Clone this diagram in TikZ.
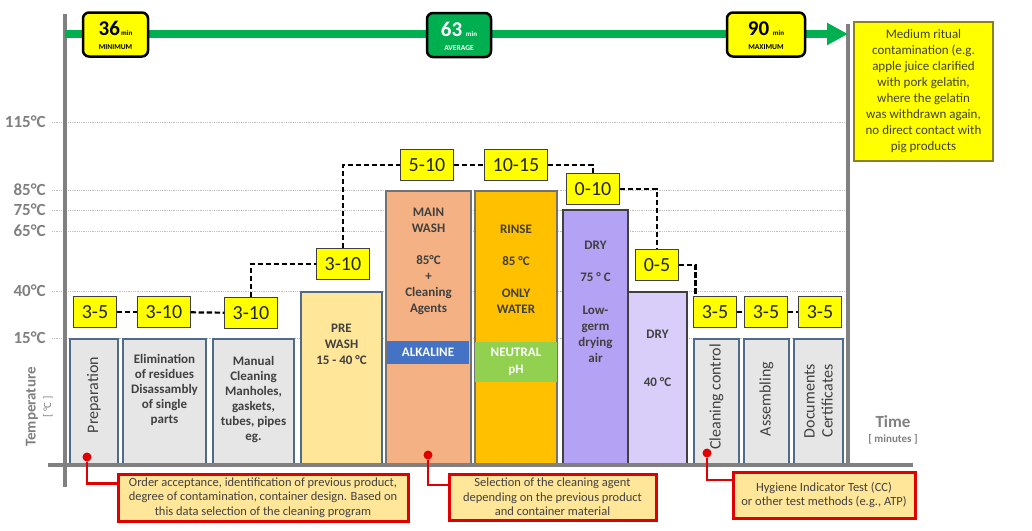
\documentclass[tikz,border=0pt]{standalone}
\usepackage{fontspec}
\setmainfont{Carlito}
\usetikzlibrary{arrows.meta}
\tikzset{>=latex}
\definecolor{axisgray}{HTML}{808080}
\definecolor{txtgray}{HTML}{404040}
\definecolor{durbox}{HTML}{FFFF00}
\definecolor{noteframe}{HTML}{8C8020}
\definecolor{timegreen}{HTML}{00B050}
\definecolor{barframe}{HTML}{4F6A8A}
\definecolor{prepfill}{HTML}{E7E6E6}
\definecolor{prefill}{HTML}{FFE699}
\definecolor{mainfill}{HTML}{F4B183}
\definecolor{rinsefill}{HTML}{FFC000}
\definecolor{dryfill}{HTML}{B4A3F5}
\definecolor{drylight}{HTML}{D9CEFA}
\definecolor{alkfill}{HTML}{4472C4}
\definecolor{neutfill}{HTML}{92D050}
\definecolor{callfill}{HTML}{FFE699}
\definecolor{callred}{HTML}{E00000}
\tikzset{
    dur/.style={draw=black!75, fill=durbox, line width=0.8, inner xsep=8, inner ysep=0, minimum height=31,
        text height=13.5, text depth=0, text=black!85, font=\fontsize{20}{20}\selectfont},
    dashline/.style={line width=2.2, dash pattern=on 5.5pt off 2.5pt},
    phase/.style={draw=barframe, line width=1.2},
    cphase/.style={draw=black!55, line width=1.2},
    bartxt/.style={align=center, text=txtgray, inner sep=0, font=\fontsize{13}{15}\selectfont\bfseries},
    sidetxt/.style={rotate=90, align=center, text=txtgray, inner sep=0, font=\fontsize{16}{18}\selectfont},
    band/.style={inner sep=0, align=center, text=white, font=\fontsize{13}{17}\selectfont\bfseries},
    gridline/.style={densely dotted, draw=black!25, line width=0.8},
    templabel/.style={anchor=east, inner sep=0, text=axisgray, font=\fontsize{17}{17}\selectfont\bfseries},
    axistitle/.style={inner sep=0, text=axisgray, font=\fontsize{15}{15}\selectfont\bfseries},
    axisline/.style={draw=axisgray, line width=4},
    tbox/.style={draw=black, line width=2.5, rounded corners=6, minimum height=44, inner sep=0, align=center,
        font=\fontsize{7.5}{14}\selectfont\bfseries},
    notebox/.style={draw=callred, line width=3, fill=callfill, align=center, inner sep=0, text=txtgray,
        font=\fontsize{12.5}{14.5}\selectfont},
    reddot/.style={circle, fill=callred, inner sep=0, minimum size=9},
    pinline/.style={draw=callred, line width=2.5},
}
\begin{document}
\begin{tikzpicture}[x=1pt, y=-1pt, thick]
    \useasboundingbox(0,0)rectangle(1032,530);
    % temperature grid
    \foreach \t/\y in {115/122, 85/190, 75/210, 65/231, 40/291, 15/338}{
        \draw[gridline](52,\y)--(848,\y);
        \node[templabel](lab\t)at(46,\y){\t°C};
    }
    % phases
    \draw[phase, fill=prepfill](70,339)rectangle(118,465);
    \draw[phase, fill=prepfill](123,339)rectangle(206,465);
    \draw[phase, fill=prepfill](213,339)rectangle(294,465);
    \draw[phase, fill=prefill](301,292)rectangle(382,465);
    \draw[cphase, fill=mainfill](386,191)rectangle(471,465);
    \draw[cphase, fill=rinsefill](475,191)rectangle(557,465);
    \draw[cphase, draw=black!75, fill=dryfill](563,210)rectangle(628,465);
    \draw[cphase, draw=black!75, fill=drylight](628,292)rectangle(687,465);
    \draw[phase, fill=prepfill](694,339)rectangle(739,465);
    \draw[phase, fill=prepfill](744,339)rectangle(789,465);
    \draw[phase, fill=prepfill](794,339)rectangle(843,465);
    \node[sidetxt](prep)at(94,395){Preparation};
    \node[bartxt](elim)at(164.5,390){Elimination\\of residues\\Disassambly\\of single\\parts};
    \node[bartxt](manual)at(253.5,399.5){Manual\\Cleaning\\Manholes,\\gaskets,\\tubes, pipes\\eg.};
    \node[bartxt, font=\fontsize{13}{16}\selectfont\bfseries](prewash)at(341.5,344){PRE\\WASH\\15 - 40 °C};
    \node[bartxt, font=\fontsize{13}{16}\selectfont\bfseries](mainwash)at(428.5,261){MAIN\\WASH\\[16pt]85°C\\+\\Cleaning\\Agents};
    \node[bartxt, font=\fontsize{13}{16}\selectfont\bfseries](rinse)at(516,269){RINSE\\[16pt]85 °C\\[16pt]ONLY\\WATER};
    \node[bartxt, font=\fontsize{13}{16.3}\selectfont\bfseries](dryhot)at(595.5,302){DRY\\[16pt]75 ° C\\[16pt]Low-\\germ\\drying\\air};
    \node[bartxt, font=\fontsize{13}{16}\selectfont\bfseries](drywarm)at(657.5,358){DRY\\[32pt]40 °C};
    \node[band, fill=alkfill, minimum width=82, minimum height=23](alk)at(428,352.5){ALKALINE};
    \node[band, fill=neutfill, minimum width=82, minimum height=40](neut)at(516,362){NEUTRAL\\pH};
    \node[sidetxt](check)at(716.5,397){Cleaning control};
    \node[sidetxt](assembly)at(766.5,399){Assembling};
    \node[sidetxt](docs)at(818.5,401){Documents\\Certificates};
    % axes
    \coordinate(ytop)at(65,14);
    \coordinate(ybot)at(65,487);
    \coordinate(xleft)at(48,465);
    \coordinate(xright)at(913,465);
    \coordinate(rtop)at(848,24);
    \coordinate(rbot)at(848,465);
    \draw[axisline](ytop)--(ybot);
    \draw[axisline](xleft)--(xright);
    \draw[axisline](rtop)--(rbot);
    \node[axistitle, rotate=90](ytitle)at(32,407){Temperature};
    \node[axistitle, rotate=90, font=\fontsize{11}{11}\selectfont](yunit)at(48,407){[ °C ]};
    \node[axistitle, font=\fontsize{17}{17}\selectfont\bfseries](xtitle)at(893,422){Time};
    \node[axistitle, font=\fontsize{11}{11}\selectfont\bfseries](xunit)at(893,439){[ minutes ]};
    % time line
    \coordinate(tstart)at(65,34);
    \coordinate(tend)at(848,34);
    \draw[line width=8, timegreen, -{Triangle[length=21pt, width=21pt]}](tstart)--(tend);
    \node[tbox, fill=durbox, minimum width=65](tmin)at(115.5,34.5){\rule{0pt}{17pt}{\fontsize{21}{21}\selectfont 36}\,{\fontsize{7}{7}\selectfont min}\\MINIMUM};
    \node[tbox, fill=timegreen, text=white, minimum width=64](tavg)at(459,35){\rule{0pt}{17pt}{\fontsize{21}{21}\selectfont 63}\enspace{\fontsize{7}{7}\selectfont min}\\AVERAGE};
    \node[tbox, fill=durbox, minimum width=78](tmax)at(766,34.5){\rule{0pt}{17pt}{\fontsize{21}{21}\selectfont 90}\enspace{\fontsize{7}{7}\selectfont min}\\MAXIMUM};
    \node[draw=noteframe, line width=1.2, fill=durbox, minimum width=139, minimum height=139, inner sep=0,
        align=center, text=txtgray, font=\fontsize{13}{16}\selectfont](ritual)at(923.5,91.5){Medium ritual\\contamination (e.g.\\apple juice clarified\\with pork gelatin,\\where the gelatin\\was withdrawn again,\\no direct contact with\\pig products};
    % durations
    \node[dur](d1)at(95,312){3-5};
    \node[dur](d2)at(164,312){3-10};
    \node[dur](d3)at(251,313){3-10};
    \node[dur](d4)at(343,264){3-10};
    \node[dur](d5)at(427,165){5-10};
    \node[dur](d6)at(516,165){10-15};
    \node[dur](d7)at(593,189){0-10};
    \node[dur](d8)at(657,265){0-5};
    \node[dur](d9)at(715,312){3-5};
    \node[dur](d10)at(766,312){3-5};
    \node[dur](d11)at(820,312){3-5};
    \draw[dashline](d1)--(d2);
    \draw[dashline](d2)--(d3);
    \draw[dashline](d3.north)|-(d4.west);
    \draw[dashline](d4.north)|-(d5.west);
    \draw[dashline](d5)--(d6);
    \draw[dashline](d6.east)-|(d7.north);
    \draw[dashline](d7.east)-|(d8.north);
    \draw[dashline](d8.east)-|([xshift=2]d9.north west);
    \draw[dashline](d9)--(d10);
    \draw[dashline](d10)--(d11);
    % remarks
    \node[notebox, minimum width=290, minimum height=47](c1)at(263,497.5){Order acceptance, identification of previous product,\\degree of contamination, container design. Based on\\this data selection of the cleaning program};
    \node[notebox, minimum width=207, minimum height=46](c2)at(552.5,497){Selection of the cleaning agent\\depending on the previous product\\and container material};
    \node[notebox, minimum width=182, minimum height=46](c3)at(824,495){Hygiene Indicator Test (CC)\\or other test methods (e.g., ATP)};
    \node[reddot](p1)at(87,457){};
    \node[reddot](p2)at(428,455){};
    \node[reddot](p3)at(707,453){};
    \draw[pinline](p1)|-([yshift=14]c1.west);
    \draw[pinline](p2)|-([yshift=12]c2.west);
    \draw[pinline](p3)|-([yshift=15]c3.west);
\end{tikzpicture}
\end{document}
